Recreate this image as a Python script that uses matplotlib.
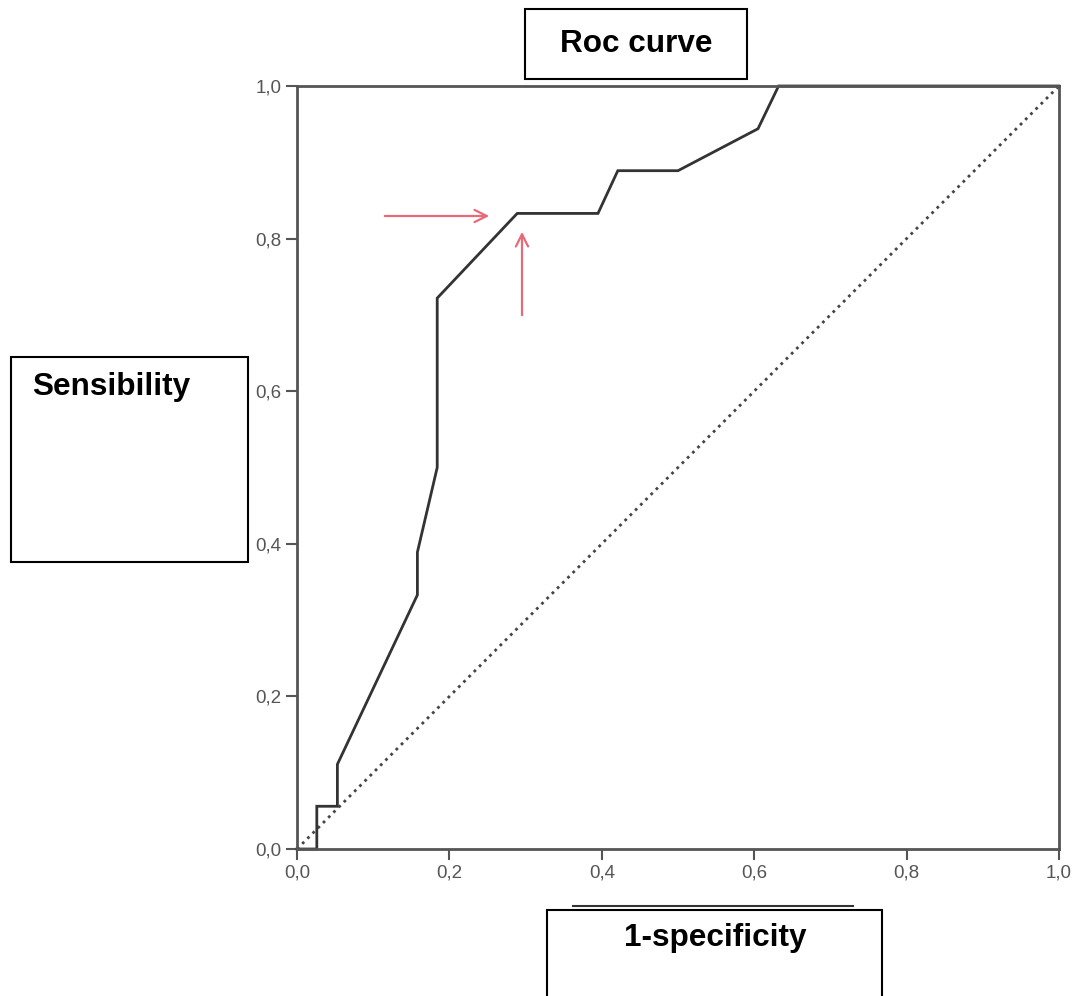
import matplotlib
matplotlib.use("Agg")
import matplotlib.pyplot as plt
from matplotlib.patches import Rectangle, FancyArrowPatch
from matplotlib.lines import Line2D

# ROC curve data (1 - specificity, sensitivity)
fpr = [0.0, 0.026, 0.026, 0.053, 0.053, 0.158, 0.158, 0.184, 0.184, 0.289,
       0.395, 0.421, 0.5, 0.605, 0.632, 1.0]
tpr = [0.0, 0.0, 0.056, 0.056, 0.111, 0.333, 0.389, 0.5, 0.722, 0.833,
       0.833, 0.889, 0.889, 0.944, 1.0, 1.0]
diag = [0.0, 1.0]
ticks = [0.0, 0.2, 0.4, 0.6, 0.8, 1.0]
tick_labels = ["0,0", "0,2", "0,4", "0,6", "0,8", "1,0"]

plt.rcParams['font.family'] = ['Liberation Sans', 'DejaVu Sans']

W, H = 1086, 996
fig = plt.figure(figsize=(W / 100, H / 100), dpi=100)

def fx(px):
    return px / W

def fy(py):
    return 1 - py / H

ax = fig.add_axes([fx(297), fy(849), fx(1059) - fx(297), fy(86) - fy(849)])
ax.plot(diag, diag, linestyle=':', color='#444444', lw=2, clip_on=False)
ax.plot(fpr, tpr, color='#333333', lw=2, clip_on=False, solid_joinstyle='miter')
ax.set_xlim(0, 1)
ax.set_ylim(0, 1)
ax.set_xticks(ticks)
ax.set_xticklabels(tick_labels)
ax.set_yticks(ticks)
ax.set_yticklabels(tick_labels)
ax.tick_params(direction='out', length=8, width=1.5, color='#555555',
               labelsize=13.5, labelcolor='#555555', pad=3)
for s in ax.spines.values():
    s.set_color('#555555')
    s.set_linewidth(2)

# text boxes
def box(x0, y0, x1, y1):
    fig.patches.append(Rectangle((fx(x0), fy(y1)), fx(x1) - fx(x0), fy(y0) - fy(y1),
                                 transform=fig.transFigure, fill=True,
                                 facecolor='white', edgecolor='black', lw=1.5))

box(525, 9, 747, 79)
fig.text(fx(636), fy(52), "Roc curve", ha='center', va='baseline',
         fontsize=22.7, fontweight='bold')

box(11, 357, 248, 562)
fig.text(fx(32), fy(395), "Sensibility", ha='left', va='baseline',
         fontsize=22.7, fontweight='bold')

fig.lines.append(Line2D([fx(573), fx(853)], [fy(906), fy(906)],
                        transform=fig.transFigure, color='#333333', lw=1.5))
box(547, 910, 882, 1010)
fig.text(fx(715), fy(946), "1-specificity", ha='center', va='baseline',
         fontsize=22.7, fontweight='bold')

# red arrows
red = '#e56a7a'
for (x0, y0, x1, y1) in [(382, 216, 492, 216), (522, 318, 522, 229)]:
    fig.patches.append(FancyArrowPatch((fx(x0), fy(y0)), (fx(x1), fy(y1)),
                                       transform=fig.transFigure,
                                       arrowstyle='->', mutation_scale=22,
                                       color=red, lw=1.6))

fig.savefig("out.png", dpi=100)
